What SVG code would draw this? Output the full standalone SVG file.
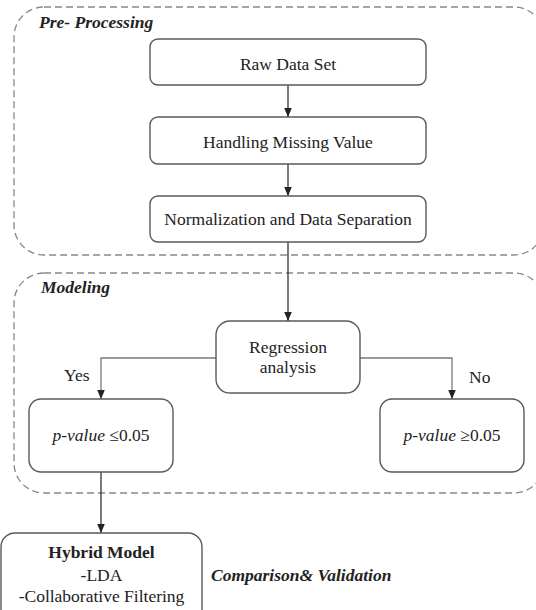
<svg xmlns="http://www.w3.org/2000/svg" width="536" height="610" viewBox="0 0 536 610">
<style>
  .grp{fill:none;stroke:#888;stroke-width:1.3;stroke-dasharray:7 4}
  .box{fill:#fff;stroke:#5a5a5a;stroke-width:1.4}
  .t{font-family:"Liberation Serif","Times New Roman",serif;font-size:17.5px;fill:#222}
  .c{text-anchor:middle}
  .bi{font-weight:bold;font-style:italic}
  .b{font-weight:bold}
  .conn{fill:none;stroke:#333;stroke-width:1.3}
  .conn2{fill:none;stroke:#7a7a7a;stroke-width:1.3}
</style>
<defs>
  <marker id="arr" markerUnits="userSpaceOnUse" markerWidth="10" markerHeight="10" viewBox="0 0 10 10" refX="10" refY="5" orient="auto">
    <path d="M1,1.2 L10,5 L1,8.8 Z" fill="#222"/>
  </marker>
</defs>
<rect x="0" y="0" width="536" height="610" fill="#fff"/>
<g id="group-preprocessing">
  <rect class="grp" x="14" y="7" width="530" height="248" rx="30"/>
  <text class="t bi" x="39" y="28">Pre- Processing</text>
</g>
<g id="group-modeling">
  <rect class="grp" x="14" y="273" width="530" height="220" rx="30"/>
  <text class="t bi" x="41" y="293">Modeling</text>
</g>
<g id="connectors">
  <path class="conn" d="M288,85 V117" marker-end="url(#arr)"/>
  <path class="conn" d="M288,164 V196" marker-end="url(#arr)"/>
  <path class="conn" d="M288,242 V321" marker-end="url(#arr)"/>
  <path class="conn2" d="M216,358 H101 V399" marker-end="url(#arr)"/>
  <path class="conn2" d="M360,358 H452 V399" marker-end="url(#arr)"/>
  <path class="conn" d="M101,472 V533" marker-end="url(#arr)"/>
  <text class="t" x="64" y="381">Yes</text>
  <text class="t" x="469" y="383">No</text>
</g>
<g id="raw-data-set">
  <rect class="box" x="150" y="39" width="276" height="46" rx="8"/>
  <text class="t c" x="288" y="70">Raw Data Set</text>
</g>
<g id="handling-missing-value">
  <rect class="box" x="150" y="117" width="276" height="47" rx="8"/>
  <text class="t c" x="288" y="148">Handling Missing Value</text>
</g>
<g id="normalization">
  <rect class="box" x="150" y="196" width="276" height="46" rx="8"/>
  <text class="t c" x="288" y="225">Normalization and Data Separation</text>
</g>
<g id="regression-analysis">
  <rect class="box" x="216" y="321" width="144" height="72" rx="14"/>
  <text class="t c" x="288" y="353">Regression</text>
  <text class="t c" x="288" y="373">analysis</text>
</g>
<g id="pvalue-low">
  <rect class="box" x="29" y="399" width="144" height="73" rx="12"/>
  <text class="t c" x="101" y="441"><tspan font-style="italic">p-value</tspan> ≤0.05</text>
</g>
<g id="pvalue-high">
  <rect class="box" x="380" y="399" width="144" height="73" rx="12"/>
  <text class="t c" x="452" y="441"><tspan font-style="italic">p-value</tspan> ≥0.05</text>
</g>
<g id="hybrid-model">
  <rect class="box" x="1" y="533" width="201" height="90" rx="14"/>
  <text class="t c b" x="101.5" y="558">Hybrid Model</text>
  <text class="t c" x="101.5" y="581">-LDA</text>
  <text class="t c" x="101.5" y="602">-Collaborative Filtering</text>
</g>
<g id="comparison-label">
  <text class="t bi" x="211" y="581">Comparison&amp; Validation</text>
</g>
</svg>
